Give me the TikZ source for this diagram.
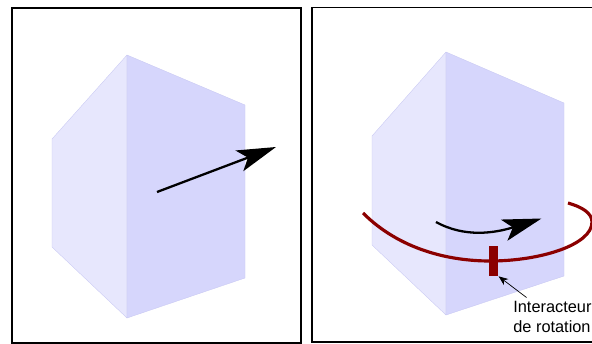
\documentclass[tikz,border=0pt]{standalone}
\usepackage{fontspec}
\setmainfont{Liberation Sans}
\usetikzlibrary{arrows.meta,positioning}
\definecolor{ink}{HTML}{000000}
\definecolor{faceleft}{HTML}{E7E7FD}
\definecolor{faceright}{HTML}{D6D6FC}
\definecolor{faceedge}{HTML}{C8C8F2}
\definecolor{ringred}{HTML}{8B0000}

\begin{document}
\begin{tikzpicture}[
  frame/.style={draw=ink,line width=1pt},
  faceA/.style={fill=faceleft,draw=faceedge,line width=0.2pt,line join=round},
  faceB/.style={fill=faceright,draw=faceedge,line width=0.2pt,line join=round},
  bigflow/.style={-{Stealth[length=7.8mm,width=4.4mm,inset=1.8mm]},line width=1.3pt,draw=ink},
  ring/.style={draw=ringred,line width=1.8pt},
  interactor/.style={fill=ringred,inner sep=0pt,minimum width=1.9mm,minimum height=6mm},
  smalllabel/.style={font=\fontsize{9.3}{11.3}\selectfont,text=ink,align=left,inner sep=0pt},
  thinflow/.style={-{Stealth[length=1.9mm,width=1.5mm]},line width=0.4pt,draw=ink}
]
\useasboundingbox (0,0) rectangle (11.84,6.86);
\clip (0,0) rectangle (11.84,6.86);

% Left panel.
\draw[frame] (0.24,0) rectangle (6.02,6.70);
\path[faceA] (2.54,5.76)--(1.04,4.08)--(1.04,1.92)--(2.54,0.50)--cycle;
\path[faceB] (2.54,5.76)--(4.90,4.76)--(4.90,1.30)--(2.54,0.50)--cycle;

\coordinate (lstart) at (3.14,3.02);
\coordinate (lend) at (5.52,3.92);
\draw[bigflow] (lstart)--(lend);

% Right panel.
\draw[frame] (6.24,0.02) rectangle (12.2,6.71);
\path[faceA] (8.92,5.82)--(7.44,4.14)--(7.44,1.96)--(8.92,0.56)--cycle;
\path[faceB] (8.92,5.82)--(11.28,4.80)--(11.28,1.34)--(8.92,0.56)--cycle;

\coordinate (rstart) at (8.72,2.42);
\coordinate (rend) at (10.83,2.49);
\draw[bigflow] (rstart) .. controls (9.30,2.10) and (9.90,2.20) .. (rend);

% Ring and its handle.
\draw[ring] (7.26,2.60) .. controls (8.00,1.86) and (9.00,1.64) .. (9.80,1.64)
  .. controls (10.80,1.64) and (11.84,1.96) .. (11.84,2.42)
  .. controls (11.84,2.60) and (11.64,2.72) .. (11.36,2.80);
\node[interactor] (handle) at (9.87,1.64) {};

\node[smalllabel,anchor=north west] (handlelabel) at (10.26,0.84) {Interacteur\\de rotation};
\coordinate (labeltop) at (10.53,0.91);
\draw[thinflow] (labeltop)--(handle.south east);

\end{tikzpicture}
\end{document}
